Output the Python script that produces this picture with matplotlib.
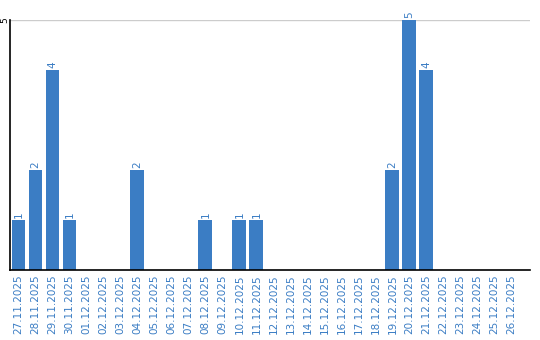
import matplotlib.pyplot as plt

dates = ['27.11.2025', '28.11.2025', '29.11.2025', '30.11.2025', '01.12.2025',
         '02.12.2025', '03.12.2025', '04.12.2025', '05.12.2025', '06.12.2025',
         '07.12.2025', '08.12.2025', '09.12.2025', '10.12.2025', '11.12.2025',
         '12.12.2025', '13.12.2025', '14.12.2025', '15.12.2025', '16.12.2025',
         '17.12.2025', '18.12.2025', '19.12.2025', '20.12.2025', '21.12.2025',
         '22.12.2025', '23.12.2025', '24.12.2025', '25.12.2025', '26.12.2025']
counts = [1, 2, 4, 1, 0, 0, 0, 2, 0, 0, 0, 1, 0, 1, 1,
          0, 0, 0, 0, 0, 0, 0, 2, 5, 4, 0, 0, 0, 0, 0]

blue = '#3b7dc4'

fig = plt.figure(figsize=(5.4, 3.4), dpi=100)
ax = fig.add_axes([10 / 540, 70 / 340, 520 / 540, 250 / 340])

x = range(len(dates))
ax.bar(x, counts, width=0.82, color=blue)

# value labels above the bars
for i, v in enumerate(counts):
    if v > 0:
        ax.text(i, v + 0.04, str(v), rotation=90, ha='center', va='bottom',
                color=blue, fontsize=7.5, clip_on=False)

ax.set_xlim(-0.5, 30.1)
ax.set_ylim(0, 5)
ax.set_xticks(list(x))
ax.set_xticklabels(dates, rotation=90, color=blue, fontsize=7.5)
ax.set_yticks([5])
ax.set_yticklabels(['5'], rotation=90, va='center', fontsize=6.5)
ax.tick_params(length=0, pad=3)
ax.tick_params(axis='y', pad=0.5)
ax.yaxis.grid(True, color='#cccccc', linewidth=1)
ax.set_axisbelow(True)

for side in ['top', 'right']:
    ax.spines[side].set_visible(False)
ax.spines['left'].set_linewidth(1.2)
ax.spines['bottom'].set_linewidth(1.2)

plt.savefig('out.png', dpi=100)
